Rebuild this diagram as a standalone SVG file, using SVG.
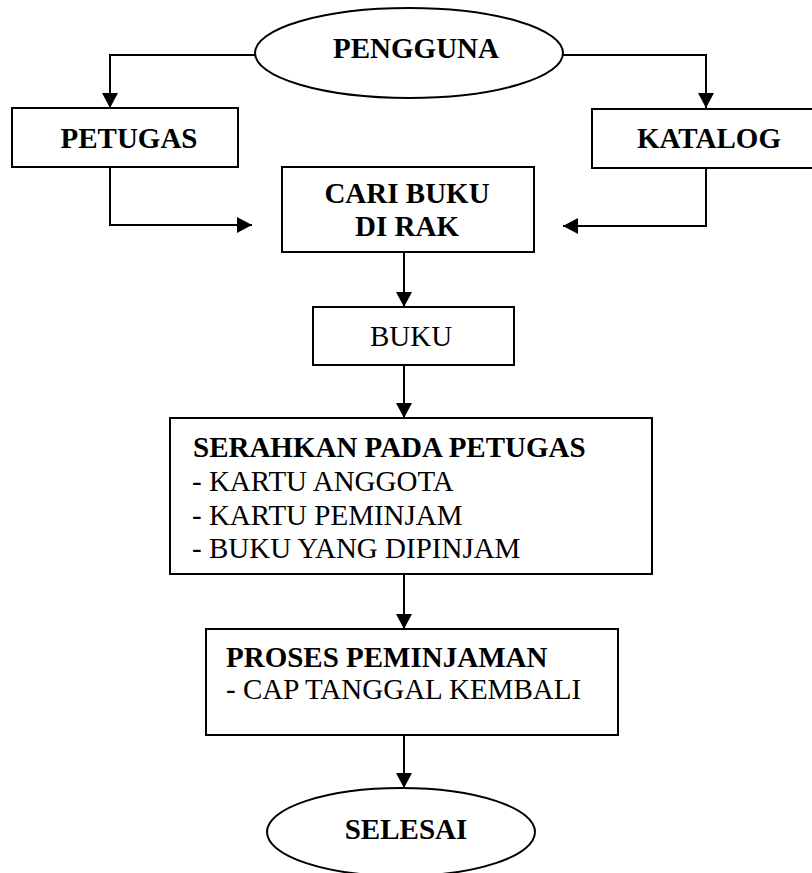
<svg xmlns="http://www.w3.org/2000/svg" width="812" height="873" viewBox="0 0 812 873">
<style>
.s{fill:#fff;stroke:#000;stroke-width:2}
.c{fill:none;stroke:#000;stroke-width:2}
text{font-family:"Liberation Serif","Times New Roman",serif;font-size:29px;fill:#000}
.b{font-weight:bold}
.m{text-anchor:middle}
</style>
<defs>
<marker id="ah" markerUnits="userSpaceOnUse" markerWidth="16" markerHeight="16" refX="15" refY="8" orient="auto">
<path d="M0,0 L15,8 L0,16 z" fill="#000"/>
</marker>
</defs>
<rect width="812" height="873" fill="#fff"/>
<g id="connectors">
<path class="c" d="M255,55 H110 V108" marker-end="url(#ah)"/>
<path class="c" d="M563,55 H706 V108" marker-end="url(#ah)"/>
<path class="c" d="M110,167 V225 H252" marker-end="url(#ah)"/>
<path class="c" d="M706,168 V226 H563" marker-end="url(#ah)"/>
<path class="c" d="M404,252 V307" marker-end="url(#ah)"/>
<path class="c" d="M404,365 V418" marker-end="url(#ah)"/>
<path class="c" d="M404,574 V629" marker-end="url(#ah)"/>
<path class="c" d="M404,735 V788" marker-end="url(#ah)"/>
</g>
<g id="pengguna">
<ellipse class="s" cx="409" cy="53" rx="154" ry="45"/>
<text class="b m" x="416" y="58">PENGGUNA</text>
</g>
<g id="petugas">
<rect class="s" x="12" y="108" width="226" height="59"/>
<text class="b m" x="129" y="148">PETUGAS</text>
</g>
<g id="katalog">
<rect class="s" x="592" y="109" width="224" height="59"/>
<text class="b m" x="709" y="148">KATALOG</text>
</g>
<g id="cari">
<rect class="s" x="282" y="167" width="252" height="85"/>
<text class="b m" x="407" y="203">CARI BUKU</text>
<text class="b m" x="407" y="236">DI RAK</text>
</g>
<g id="buku">
<rect class="s" x="313" y="307" width="201" height="58"/>
<text class="m" x="411" y="346">BUKU</text>
</g>
<g id="serahkan">
<rect class="s" x="170" y="418" width="482" height="156"/>
<text class="b" x="193" y="457">SERAHKAN PADA PETUGAS</text>
<text x="192" y="491">- KARTU ANGGOTA</text>
<text x="192" y="525">- KARTU PEMINJAM</text>
<text x="192" y="558">- BUKU YANG DIPINJAM</text>
</g>
<g id="proses">
<rect class="s" x="206" y="629" width="412" height="106"/>
<text class="b" x="226" y="667">PROSES PEMINJAMAN</text>
<text x="226" y="699">- CAP TANGGAL KEMBALI</text>
</g>
<g id="selesai">
<ellipse class="s" cx="401" cy="832" rx="134" ry="44"/>
<text class="b m" x="406" y="839">SELESAI</text>
</g>
</svg>
